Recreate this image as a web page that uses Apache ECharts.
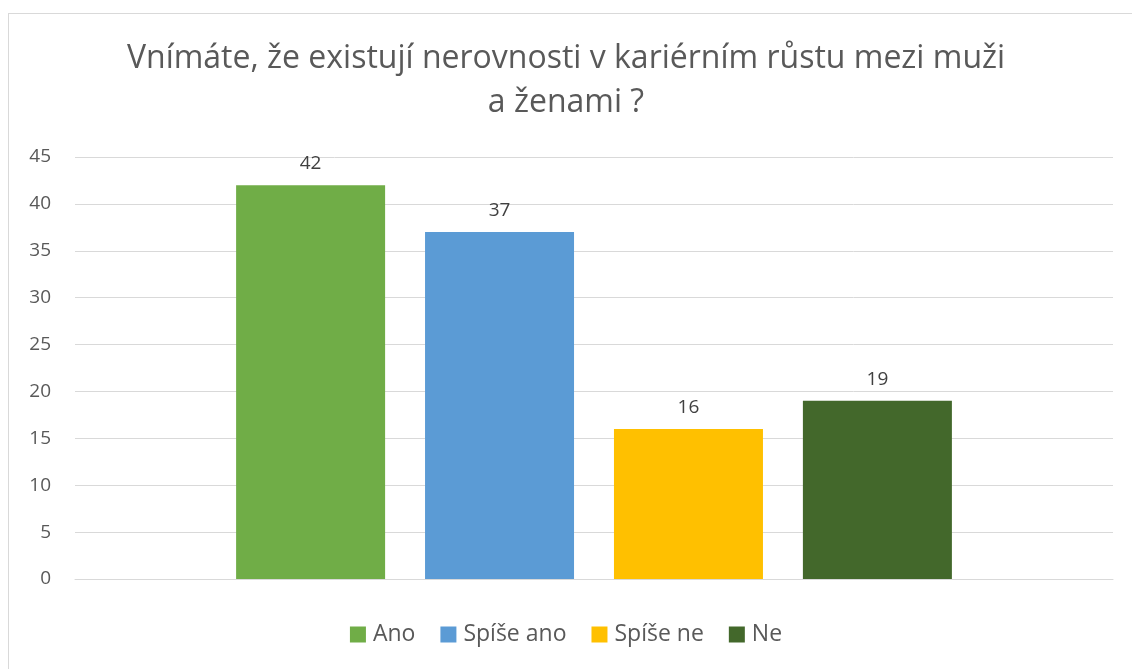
<!DOCTYPE html>
<html>
<head>
<meta charset="utf-8">
<script src="https://cdn.jsdelivr.net/npm/echarts@6/dist/echarts.min.js"></script>
<style>
  html, body { margin: 0; padding: 0; background: #fff; overflow: hidden; }
  #frame { position: absolute; left: 8px; top: 13px; width: 1140px; height: 680px; border: 1px solid #d9d9d9; box-sizing: border-box; }
  #chart { position: absolute; left: 0; top: 0; width: 1132px; height: 669px; }
</style>
</head>
<body>
<div id="frame"></div>
<div id="chart"></div>
<script>
    // data
    var categories = [''];
    var seriesNames = ['Ano', 'Spíše ano', 'Spíše ne', 'Ne'];
    var seriesValues = [42, 37, 16, 19];
    var seriesColors = ['#70ad47', '#5b9bd5', '#ffc000', '#43682b'];

    var myChart = echarts.init(document.getElementById('chart'));

    var series = [];
    seriesNames.forEach(function (name, i) {
        series.push({
            name: name,
            type: 'bar',
            data: [seriesValues[i]],
            barWidth: 149,
            barGap: '26.8%',
            itemStyle: { color: seriesColors[i] },
            label: {
                show: true,
                position: 'top',
                distance: 12,
                color: '#404040',
                fontSize: 19,
                fontFamily: 'Open Sans'
            }
        });
    });

    var option = {
        animation: false,
        textStyle: { fontFamily: 'Open Sans' },
        title: {
            text: 'Vnímáte, že existují nerovnosti v kariérním růstu mezi muži\na ženami ?',
            left: 'center',
            top: 32,
            textStyle: {
                fontWeight: 'normal',
                color: '#595959',
                fontSize: 32,
                lineHeight: 44,
                fontFamily: 'Open Sans'
            }
        },
        legend: {
            bottom: 18,
            left: 'center',
            itemWidth: 16,
            itemHeight: 16,
            itemGap: 25,
            icon: 'rect',
            textStyle: { color: '#595959', fontSize: 23, padding: [0, 0, 0, 2], fontFamily: 'Open Sans' },
            data: seriesNames
        },
        grid: {
            left: 75,
            right: 19,
            top: 157,
            bottom: 90
        },
        xAxis: {
            type: 'category',
            data: categories,
            axisLine: { lineStyle: { color: '#d9d9d9', width: 1 } },
            axisTick: { show: false },
            axisLabel: { show: false }
        },
        yAxis: {
            type: 'value',
            min: 0,
            max: 45,
            interval: 5,
            axisLine: { show: false },
            axisTick: { show: false },
            axisLabel: { color: '#595959', fontSize: 19, margin: 24, fontFamily: 'Open Sans' },
            splitLine: { lineStyle: { color: '#d9d9d9', width: 1 } }
        },
        series: series
    };
    myChart.setOption(option);
</script>
</body>
</html>
